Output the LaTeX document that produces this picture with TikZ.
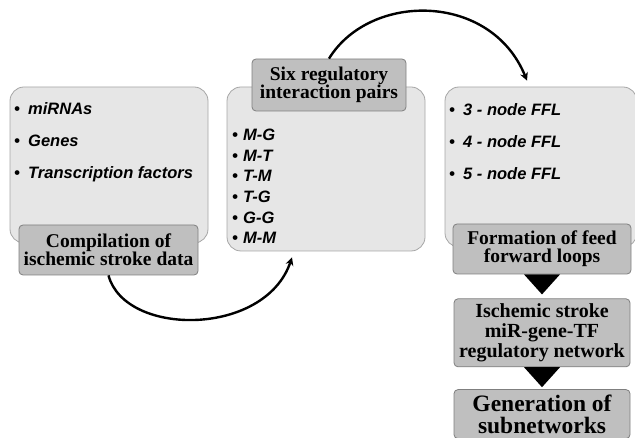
\documentclass[tikz,border=0pt]{standalone}
\usepackage{fontspec}
\setmainfont{Liberation Serif}
\newfontfamily\listfont{Liberation Sans}
\usepackage{xcolor}
\usetikzlibrary{positioning, arrows.meta, calc}
\definecolor{panelfill}{HTML}{E6E6E6}
\definecolor{panelline}{HTML}{A6A6A6}
\definecolor{tagfill}{HTML}{BFBFBF}
\definecolor{tagline}{HTML}{7F7F7F}
\newcommand{\bulitem}[2][14pt]{\makebox[#1][l]{\textbullet}#2}
\tikzset{
    panel/.style={
        rectangle, draw=panelline, line width=0.8pt,
        rounded corners=14pt,
        fill=panelfill
    },
    tag/.style={
        rectangle, draw=tagline, line width=0.8pt,
        rounded corners=4pt,
        fill=tagfill,
        font=\fontsize{19.5}{18}\selectfont\bfseries,
        align=center, inner sep=0pt
    },
    itemlist/.style={
        anchor=north west, inner sep=0pt, align=left,
        font=\listfont\bfseries\itshape
    },
    curved/.style={
        -{Stealth[length=8pt, width=8pt]}, line width=2.4pt
    },
    wedge/.style={
        fill=black
    }
}

\begin{document}
\begin{tikzpicture}[x=1pt, y=-1pt, node distance=24pt]

\useasboundingbox (0,0) rectangle (635,438);
\clip (0,0) rectangle (635,438);

% three panels
\node[panel, minimum width=198pt, minimum height=156pt] (data) at (109,165) {};
\node[panel, minimum width=198pt, minimum height=164pt] (pairs) at (326,169) {};
\node[panel, minimum width=192pt, minimum height=160pt] (ffl) at (541,167) {};

\node[itemlist, font=\listfont\bfseries\itshape\fontsize{16.5}{32}\selectfont] (datalist) at (14,102)
    {\bulitem{miRNAs}\\ \bulitem{Genes}\\ \bulitem{Transcription factors}};
\node[itemlist, font=\listfont\bfseries\itshape\fontsize{16.5}{20.6}\selectfont] (pairlist) at (232,129)
    {\bulitem[11pt]{M-G}\\ \bulitem[11pt]{M-T}\\ \bulitem[11pt]{T-M}\\ \bulitem[11pt]{T-G}\\ \bulitem[11pt]{G-G}\\ \bulitem[11pt]{M-M}};
\node[itemlist, font=\listfont\bfseries\itshape\fontsize{16.5}{32}\selectfont] (ffllist) at (449,103)
    {\bulitem{3 - node FFL}\\ \bulitem{4 - node FFL}\\ \bulitem{5 - node FFL}};

% step labels
\node[tag, minimum width=179pt, minimum height=50pt] (compile) at (108.5,250) {Compilation of\\ischemic stroke data};
\node[tag, minimum width=154pt, minimum height=52pt] (six) at (329,85) {Six regulatory\\interaction pairs};
\node[tag, minimum width=178pt, minimum height=50pt] (formation) at (542,249) {Formation of feed\\forward loops};
\node[tag, minimum width=176pt, minimum height=68pt, below=of formation,
      font=\fontsize{20}{20}\selectfont\bfseries] (network) {Ischemic stroke\\miR-gene-TF\\regulatory network};
\node[tag, minimum width=176pt, minimum height=49pt, below=22pt of network,
      font=\fontsize{23.5}{22}\selectfont\bfseries] (subnet) {Generation of\\subnetworks};

% curved arrows
\coordinate (pairsin) at ($(pairs.south)+(-34,6)$);
\coordinate (fflin) at ($(ffl.north)+(-14,-6)$);
\draw[curved] (compile.south) .. controls (125,337) and (265,337) .. (pairsin);
\draw[curved] (six.north) .. controls (370,-8) and (491,-8) .. (fflin);

% wedges between steps
\fill[wedge] ($(formation.south)+(-18,0)$) -- ($(formation.south)+(18,0)$) -- ($(network.north)+(0,-4)$) -- cycle;
\fill[wedge] ($(network.south)+(-18,0)$) -- ($(network.south)+(18,0)$) -- ($(subnet.north)+(0,-2)$) -- cycle;

\end{tikzpicture}
\end{document}
